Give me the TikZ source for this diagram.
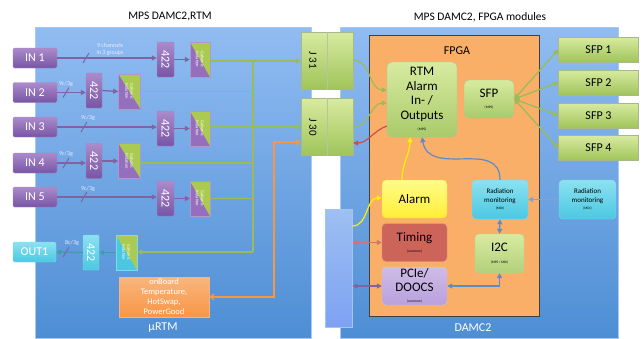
\documentclass[tikz,border=0pt]{standalone}
\usepackage{fontspec}
\setmainfont{Carlito}
\usetikzlibrary{arrows.meta,calc}
\definecolor{pnltop}{RGB}{145,188,242}
\definecolor{pnlbot}{RGB}{78,142,212}
\definecolor{purp}{RGB}{150,110,190}
\definecolor{purpd}{RGB}{120,85,165}
\definecolor{purpl}{RGB}{128,100,162}
\definecolor{grn}{RGB}{160,196,90}
\definecolor{grnl}{RGB}{215,235,160}
\definecolor{grnline}{RGB}{155,187,89}
\definecolor{orng}{RGB}{247,150,70}
\definecolor{fpga}{RGB}{250,175,105}
\definecolor{cyn}{RGB}{75,200,225}
\definecolor{cynl}{RGB}{140,225,240}
\definecolor{tealine}{RGB}{60,160,170}
\definecolor{ylw}{RGB}{255,250,60}
\definecolor{timg}{RGB}{205,100,90}
\definecolor{pcie}{RGB}{185,160,220}
\definecolor{bline}{RGB}{90,140,200}
\definecolor{redl}{RGB}{200,80,70}
\definecolor{barc}{RGB}{140,180,240}
\tikzset{
  x=1pt,y=-1pt,
  panel/.style={draw=pnltop!80!white,top color=pnltop,bottom color=pnlbot},
  inbox/.style={draw=purpd!70!white,top color=purp!80!white,bottom color=purpd,rounded corners=1.5pt,text=white,font=\fontsize{12}{13}\selectfont,minimum width=44,minimum height=20,inner sep=0},
  chip/.style={draw=purpd!70!white,top color=purp!80!white,bottom color=purpd,rounded corners=1pt,text=white,minimum width=17,minimum height=35,inner sep=0,font=\fontsize{12}{13}\selectfont},
  galv/.style={draw=purpd!60!white,fill=#1,minimum width=20,minimum height=35,inner sep=0,
    path picture={\fill[grn!90!yellow] (path picture bounding box.north west)--(path picture bounding box.north east)--(path picture bounding box.south east)--cycle;}},
  galvtxt/.style={rotate=-90,text=white,font=\fontsize{4.5}{5}\selectfont,align=center},
  gline/.style={draw=grnline,line width=1.3pt},
  pline/.style={draw=purpl,line width=1.3pt},
  arr/.style={-{Triangle[length=5pt,width=5pt]}},
  darr/.style={{Triangle[length=5pt,width=5pt]}-{Triangle[length=5pt,width=5pt]}},
  lab/.style={text=white!92!blue,font=\fontsize{6}{7}\selectfont,align=center,inner sep=0},
  conn/.style={draw=grn!70!black!60!white,top color=grnl,bottom color=grn,minimum width=52,minimum height=57,inner sep=0},
  gbox/.style={draw=grn!80!black!60!white,top color=grnl,bottom color=grn!90!white,rounded corners=5pt,inner sep=0,align=center},
  sfpbox/.style={draw=grn!70!black!60!white,top color=grnl,bottom color=grn,minimum width=80,minimum height=25,inner sep=0,font=\fontsize{12}{13}\selectfont},
  fbox/.style={rounded corners=4pt,inner sep=0,align=center,minimum width=65,minimum height=38,font=\fontsize{13}{14}\selectfont},
}
\begin{document}
\begin{tikzpicture}
\useasboundingbox (0,0) rectangle (643,338);
\fill[white] (0,0) rectangle (643,338);
% titles
\node[font=\fontsize{11.5}{13}\selectfont] (t1) at (170,17) {MPS DAMC2,RTM};
\node[font=\fontsize{11.5}{13}\selectfont] (t2) at (480,17) {MPS DAMC2, FPGA modules};
% panels
\node[panel,minimum width=276,minimum height=311,inner sep=0,anchor=north west] (lp) at (35,27) {};
\node[panel,minimum width=278,minimum height=311,inner sep=0,anchor=north west] (rp) at (340,27) {};
\node[text=white,font=\fontsize{12}{13}\selectfont] (urtm) at (163,328) {µRTM};
\node[text=white,font=\fontsize{12}{13}\selectfont] (damc) at (473,328) {DAMC2};
% inputs
\node[inbox] (in1) at (35,58) {IN 1};
\node[inbox] (in2) at (35,92.5) {IN 2};
\node[inbox] (in3) at (35,127) {IN 3};
\node[inbox] (in4) at (35,163) {IN 4};
\node[inbox] (in5) at (35,197) {IN 5};
\node[inbox,draw=cyn!70!white,top color=cynl,bottom color=cyn,minimum width=43] (out1) at (34.5,252) {OUT1};
% 422 chips
\node[chip] (c1) at (165.5,59.5) {\rotatebox{-90}{422}};
\node[chip,minimum width=16] (c2) at (94,90.5) {\rotatebox{-90}{422}};
\node[chip] (c3) at (165.5,128.5) {\rotatebox{-90}{422}};
\node[chip,minimum width=16] (c4) at (94,161) {\rotatebox{-90}{422}};
\node[chip] (c5) at (165.5,198.5) {\rotatebox{-90}{422}};
\node[chip,minimum width=16,draw=cyn!70!white,top color=cynl,bottom color=cyn] (co) at (91,252.5) {\rotatebox{-90}{422}};
% galvanic isolation
\node[galv=purp] (g1) at (200,59.5) {};
\node[galv=purp,minimum width=22] (g2) at (129.5,91.5) {};
\node[galv=purp] (g3) at (200,128.5) {};
\node[galv=purp,minimum width=22] (g4) at (129.5,161) {};
\node[galv=purp] (g5) at (200,198.5) {};
\node[galv=cyn,minimum width=21,draw=cyn!70!white] (go) at (126.5,252.5) {};
\foreach \g in {g1,g2,g3,g4,g5,go}{\node[galvtxt] at (\g) {Galvanic\\Isolation};}
% purple input lines
\draw[pline,arr] (in1.east) -- (c1.west |- in1.east);
\draw[pline,arr] (in2.east) -- (c2.west |- in2.east);
\draw[pline,arr] (in3.east) -- (c3.west |- in3.east);
\draw[pline,arr] (in4.east) -- (c4.west |- in4.east);
\draw[pline,arr] (in5.east) -- (c5.west |- in5.east);
\draw[pline,arr] (c1.east) -- (g1.west);
\draw[pline,arr] (c2.east) -- (g2.west);
\draw[pline,arr] (c3.east) -- (g3.west);
\draw[pline,arr] (c4.east) -- (g4.west);
\draw[pline,arr] (c5.east) -- (g5.west);
\draw[draw=tealine,line width=1.3pt,arr] (go.west) -- (co.east);
\draw[draw=tealine,line width=1.3pt,arr] (co.west) -- (out1.east);
% slashes and labels
\foreach \sx/\sy in {86/58,66/92.5,84/127,66/163,84/197,66/252}{\draw[pline,line width=1pt] (\sx-3,\sy+5) -- (\sx+3,\sy-5);}
\node[lab] (l1) at (110,49) {9 channels\\in 3 groups};
\node[lab] (l2) at (66,84) {9c/3g};
\node[lab] (l3) at (88,118) {9c/3g};
\node[lab] (l4) at (66,154) {9c/3g};
\node[lab] (l5) at (88,189) {9c/3g};
\node[lab] (lo) at (72,243) {8c/3g};
% connectors J31 J30
\node[conn] (j31) at (327,60.5) {};
\node[conn] (j30) at (327,127) {};
\draw[draw=grn!70!black!50!white] (j31.north) -- (j31.south) (j30.north) -- (j30.south);
\node[rotate=-90,font=\fontsize{11}{12}\selectfont] at (313,60.5) {J 31};
\node[rotate=-90,font=\fontsize{11}{12}\selectfont] at (313,127) {J 30};
% green bus
\coordinate (bt) at (253,61);
\coordinate (bb) at (253,252);
\draw[gline,arr] (g1.east |- bt) -- (j31.west |- bt);
\draw[gline] (bt) -- (bb);
\draw[gline] (g2.east) -- (bt |- g2.east);
\draw[gline,arr] (g3.east |- 0,127) -- (j30.west |- 0,127);
\draw[gline] (g4.east |- 0,163) -- (bt |- 0,163);
\draw[gline] (g5.east) -- (bt |- g5.east);
\draw[gline,arr] (bb) -- (go.east |- bb);
% orange onboard box
\node[draw=orng!70!white,top color=orng!70!white,bottom color=orng,minimum width=90,minimum height=40,inner sep=0,align=center,text=white,font=\fontsize{8.5}{10}\selectfont] (ob) at (164,297) {onBoard\\Temperature,\\HotSwap,\\PowerGood};
\coordinate (oc) at (274,297);
\draw[draw=orng,line width=1.2pt,{Straight Barb[length=4pt,width=6pt]}-{Straight Barb[length=4pt,width=6pt]}] (ob.east) -- (oc) -- (oc |- 0,142) -- (j30.west |- 0,142);
% FPGA
\node[draw=black!75,fill=fpga,line width=0.8pt,minimum width=170,minimum height=281,inner sep=0,anchor=north west] (fp) at (369,35) {};
\node[font=\fontsize{12}{13}\selectfont] (fpt) at (457,51) {FPGA};
\node[gbox,minimum width=70,minimum height=75,font=\fontsize{13}{14.5}\selectfont] (rtm) at (422,99.5) {RTM\\Alarm\\In- /\\Outputs\\[-3pt]{\fontsize{3.5}{4}\selectfont (MPS)}};
\node[gbox,minimum width=50,minimum height=38,font=\fontsize{13}{14}\selectfont] (sfp) at (489,99) {SFP\\[-3pt]{\fontsize{3.5}{4}\selectfont (MPS)}};
\node[sfpbox] (s1) at (598.5,49.5) {SFP 1};
\node[sfpbox] (s2) at (598.5,82.5) {SFP 2};
\node[sfpbox] (s3) at (598.5,115.5) {SFP 3};
\node[sfpbox] (s4) at (598.5,148) {SFP 4};
\foreach \s in {s1,s2,s3,s4}{\draw[grnline,line width=1.3pt,darr] (sfp.east) -- (\s.west);}
% J connections
\draw[grnline,line width=1.2pt,arr] (j31.east |- 0,60) to[out=0,in=180] (rtm.west |- 0,90);
\draw[grnline,line width=1.2pt,arr] (j30.east |- 0,127) to[out=0,in=180] (rtm.west |- 0,103);
\draw[redl,line width=1.2pt,arr] (rtm.west |- 0,126) to[out=200,in=0] (j30.east |- 0,143);
% lower FPGA blocks
\node[fbox,draw=ylw!70!orange,top color=ylw!60!white,bottom color=ylw!90!orange] (al) at (414.5,199) {Alarm};
\node[fbox,draw=timg!70!white,fill=timg] (tm) at (414.5,242.5) {Timing\\[-3pt]{\fontsize{3.5}{4}\selectfont (common)}};
\node[fbox,draw=pcie!70!black!40!white,top color=pcie!70!white,bottom color=pcie] (pc) at (414.5,286) {PCIe/\\DOOCS\\[-3pt]{\fontsize{3.5}{4}\selectfont (common)}};
\node[fbox,minimum width=56,minimum height=39,draw=cyn!70!white,top color=cynl,bottom color=cyn,font=\fontsize{7}{8.5}\selectfont] (rad) at (500,199.5) {Radiation\\monitoring\\[-1pt]{\fontsize{3.5}{4}\selectfont (MDI)}};
\node[fbox,minimum width=57,minimum height=39,draw=cyn!70!white,top color=cynl,bottom color=cyn,font=\fontsize{7}{8.5}\selectfont] (rado) at (587.5,199.5) {Radiation\\monitoring\\[-1pt]{\fontsize{3.5}{4}\selectfont (MDI)}};
\node[fbox,minimum width=49,minimum height=39,draw=grn!70!white,top color=grnl,bottom color=grn!80!white,font=\fontsize{13}{14}\selectfont] (i2c) at (499.5,253.5) {I2C\\[-2pt]{\fontsize{3.5}{4}\selectfont (MPS / MDI)}};
% backplane bar
\node[draw=barc!80!white,top color=barc!85!white,bottom color=barc!90!blue,minimum width=27,minimum height=118,inner sep=0,anchor=north west] (bp) at (325,209) {};
% lower connections
\draw[draw=yellow,line width=1.2pt,arr] (al.north -| 402,0) to[out=90,in=-90] (rtm.south -| 410,0);
\draw[draw=bline,line width=1.2pt,arr] (rad.north) to[out=90,in=-80,looseness=1.2] (rtm.south -| 422,0);
\draw[draw=yellow,line width=1.2pt,arr] (bp.east |- 0,226) to[out=0,in=180] (al.west |- 0,198);
\draw[draw=redl!80!white,line width=1.2pt,darr] (bp.east |- tm.west) -- (tm.west);
\draw[draw=purpl,line width=1.2pt,darr] (bp.east |- pc.west) -- (pc.west);
\draw[draw=bline,line width=1.2pt,darr] (pc.east) -| (i2c.south);
\draw[draw=bline,line width=1.2pt,darr] (rad.south) -- (i2c.north);
\draw[draw=bline!80!white,line width=1.2pt,darr] (rad.east) -- (rado.west);
\end{tikzpicture}
\end{document}
